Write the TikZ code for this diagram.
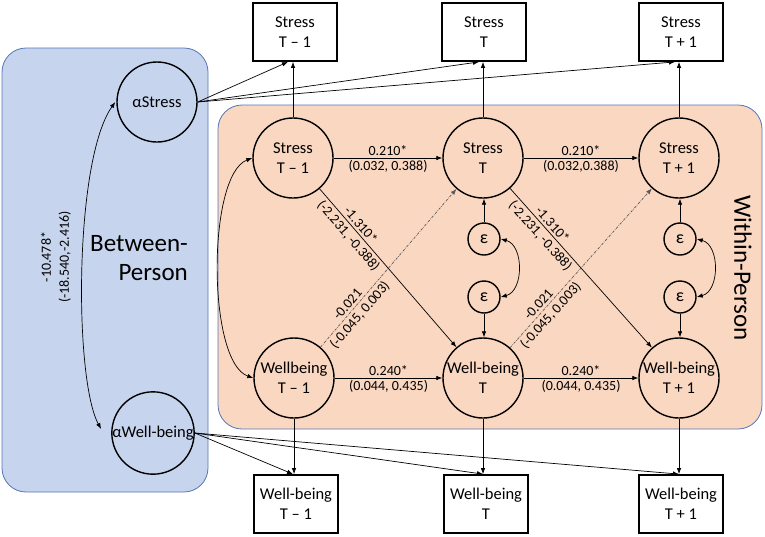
\documentclass[tikz,border=0pt]{standalone}
\usepackage{fontspec}
\setmainfont{Carlito}
\usetikzlibrary{arrows.meta}
\definecolor{bpfill}{RGB}{199,212,237}
\definecolor{wpfill}{RGB}{249,215,193}
\definecolor{frameblue}{RGB}{84,118,184}
\tikzset{
  lat/.style={circle,draw,line width=1.4pt,minimum size=80pt,inner sep=0pt,align=center,font=\fontsize{16.5}{20}\selectfont},
  obs/.style={rectangle,draw,line width=1.8pt,minimum width=84pt,minimum height=58pt,inner sep=0pt,align=center,font=\fontsize{16.5}{20}\selectfont,fill=white},
  err/.style={circle,draw,line width=1.4pt,minimum size=32pt,inner sep=0pt,font=\fontsize{18}{20}\selectfont},
  tip/.style={-{Latex[length=6pt,width=4.5pt]}},
  conn/.style={line width=0.7pt,tip},
  dconn/.style={line width=0.7pt,-{Latex[length=6pt,width=4.5pt]},draw=black!65,dash pattern=on 2.5pt off 1.2pt on 0.6pt off 1.2pt},
  biconn/.style={line width=0.7pt,{Latex[length=6pt,width=4.5pt]}-{Latex[length=6pt,width=4.5pt]}},
  lab/.style={font=\fontsize{14}{18}\selectfont,inner sep=1pt,align=center},
  big/.style={font=\fontsize{25}{29}\selectfont,inner sep=0pt},
  panel/.style={line width=0.8pt,draw=frameblue,rounded corners=24pt},
}
\begin{document}
\begin{tikzpicture}[x=1pt,y=-1pt]
\useasboundingbox (0,0) rectangle (765,536);
% panels
\draw[panel,fill=bpfill] (2,48) rectangle (208,492);
\draw[panel,fill=wpfill] (218,105) rectangle (762,429);
% texts of panels
\node[big,align=right,anchor=east] (btxt) at (188,258) {Between-\\Person};
\node[big,rotate=-90] (wtxt) at (743,268) {Within-Person};
% between nodes
\node[lat] (as) at (157,102) {αStress};
\node[lat] (aw) at (153,433) {αWell-being};
% within nodes
\node[lat] (s1) at (293,158) {Stress\\T – 1};
\node[lat] (s2) at (483,158) {Stress\\T};
\node[lat] (s3) at (679,158) {Stress\\T + 1};
\node[lat] (w1) at (294,378) {Wellbeing\\T – 1};
\node[lat] (w2) at (483,378) {Well-being\\T};
\node[lat] (w3) at (679,378) {Well-being\\T + 1};
\node[err] (e1) at (484,239) {ε};
\node[err] (e2) at (484,297) {ε};
\node[err] (e3) at (680,239) {ε};
\node[err] (e4) at (680,297) {ε};
% observed boxes
\node[obs] (bs1) at (295,32) {Stress\\T – 1};
\node[obs] (bs2) at (484,32) {Stress\\T};
\node[obs] (bs3) at (681,32) {Stress\\T + 1};
\node[obs] (bw1) at (296,504) {Well-being\\T – 1};
\node[obs] (bw2) at (486,504) {Well-being\\T};
\node[obs] (bw3) at (681,504) {Well-being\\T + 1};
% between covariance
\draw[biconn] ([shift={(-1,0)}]as.west) .. controls (74,160) and (74,380) .. ([shift={(-10,-4)}]aw.west);
\node[lab,rotate=90] (cov) at (56,257) {-10.478*\\(-18.540,-2.416)};
% alpha loadings
\draw[conn] (as.east) -- ([xshift=-5pt]s1.north |- bs1.south);
\draw[conn] (as.east) -- ([xshift=-4pt]s2.north |- bs2.south);
\draw[conn] (as.east) -- ([xshift=-4pt]s3.north |- bs3.south);
\draw[conn] (aw.east) -- ([xshift=-1pt]w1.south |- bw1.north);
\draw[conn] (aw.east) -- ([xshift=0pt]w2.south |- bw2.north);
\draw[conn] (aw.east) -- ([xshift=0pt]w3.south |- bw3.north);
% within to observed
\draw[conn] (s1.north) -- (s1.north |- bs1.south);
\draw[conn] (s2.north) -- (s2.north |- bs2.south);
\draw[conn] (s3.north) -- (s3.north |- bs3.south);
\draw[conn] (w1.south) -- (w1.south |- bw1.north);
\draw[conn] (w2.south) -- (w2.south |- bw2.north);
\draw[conn] (w3.south) -- (w3.south |- bw3.north);
% autoregressive
\draw[conn] (s1) -- node[lab,above=1pt]{0.210*} node[lab,below=1pt]{(0.032, 0.388)} (s2);
\draw[conn] (s2) -- node[lab,above=1pt]{0.210*} node[lab,below=1pt]{(0.032,0.388)} (s3);
\draw[conn] (w1) -- node[lab,above=1pt]{0.240*} node[lab,below=1pt]{(0.044, 0.435)} (w2);
\draw[conn] (w2) -- node[lab,above=1pt]{0.240*} node[lab,below=1pt]{(0.044, 0.435)} (w3);
% cross-lagged
\draw[conn] (s1) -- node[lab,sloped,above=1.5pt,pos=0.26]{-1.310*} node[lab,sloped,below=1.5pt,pos=0.26]{(-2.231, -0.388)} (w2);
\draw[conn] (s2) -- node[lab,sloped,above=1.5pt,pos=0.26]{-1.310*} node[lab,sloped,below=1.5pt,pos=0.26]{(-2.231, -0.388)} (w3);
\draw[dconn] (w1) -- node[lab,sloped,above=1.5pt,pos=0.24]{-0.021} node[lab,sloped,below=1.5pt,pos=0.24]{(-0.045, 0.003)} (s2);
\draw[dconn] (w2) -- node[lab,sloped,above=1.5pt,pos=0.24]{-0.021} node[lab,sloped,below=1.5pt,pos=0.24]{(-0.045, 0.003)} (s3);
% residuals
\draw[conn] (e1) -- (e1 |- s2.south);
\draw[conn] (e2) -- (e2 |- w2.north);
\draw[conn] (e3) -- (e3 |- s3.south);
\draw[conn] (e4) -- (e4 |- w3.north);
\draw[biconn] (e1.east) .. controls (524,245) and (524,291) .. (e2.east);
\draw[biconn] (e3.east) .. controls (720,245) and (720,291) .. (e4.east);
% within covariance
\draw[biconn] (s1.west) .. controls (207,175) and (207,362) .. (w1.west);
\end{tikzpicture}
\end{document}
